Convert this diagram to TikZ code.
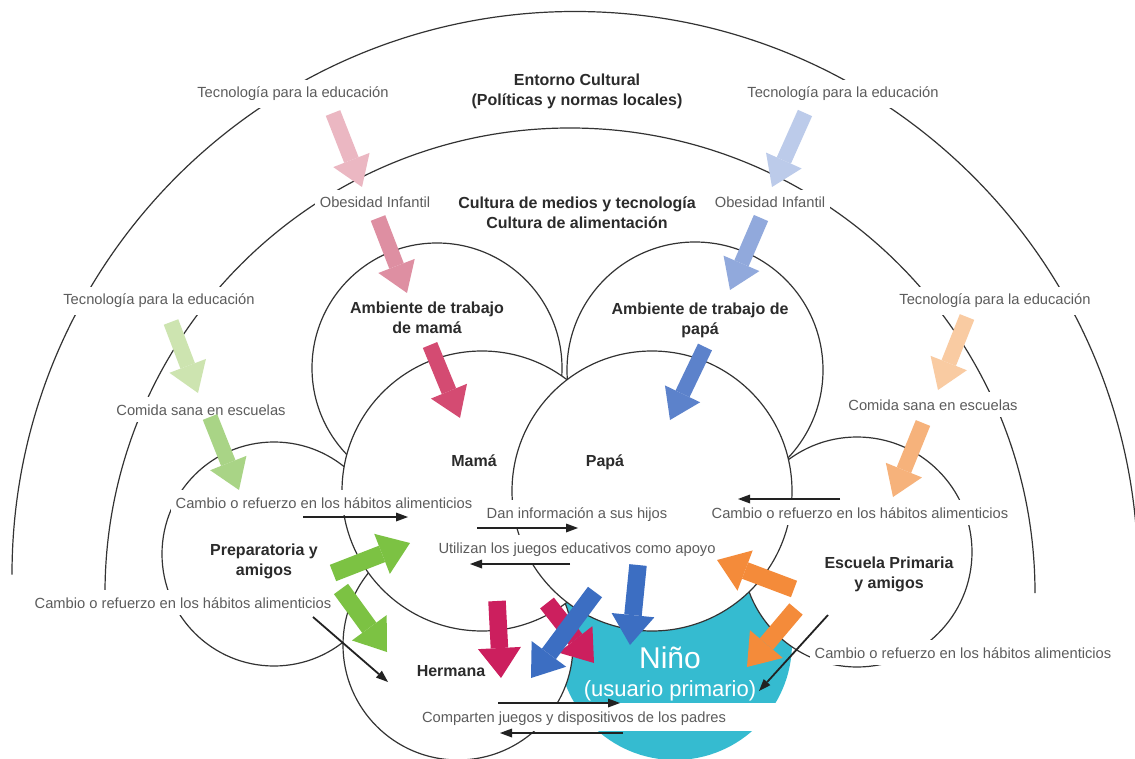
\documentclass[tikz,border=0pt]{standalone}
\usepackage{fontspec}
\setmainfont{Liberation Sans}
\usetikzlibrary{arrows.meta}
\definecolor{linegray}{HTML}{333333}
\definecolor{txtgray}{HTML}{5C5C5C}
\definecolor{txtdark}{HTML}{2B2B2B}
\definecolor{arrowblack}{HTML}{222222}
\definecolor{ninocyan}{HTML}{35BBD0}
\definecolor{lightpink}{HTML}{EBB7C2}
\definecolor{midpink}{HTML}{DE8FA2}
\definecolor{darkpink}{HTML}{D44B72}
\definecolor{lightblue}{HTML}{BCCBEA}
\definecolor{midblue}{HTML}{91A9DC}
\definecolor{darkblue}{HTML}{5C82CB}
\definecolor{lightgreen}{HTML}{CDE4B0}
\definecolor{midgreen}{HTML}{A9D486}
\definecolor{brightgreen}{HTML}{7CC243}
\definecolor{lightorange}{HTML}{F9CBA2}
\definecolor{midorange}{HTML}{F6B27B}
\definecolor{brightorange}{HTML}{F48B3A}
\definecolor{crimson}{HTML}{CC1F5E}
\definecolor{strongblue}{HTML}{3C6EC2}
\begin{document}
\begin{tikzpicture}[x=1pt,y=-1pt,
  arcline/.style={draw=linegray, line width=1.2pt},
  circ/.style={circle, draw=linegray, fill=white, line width=1.2pt, inner sep=0pt},
  graytxt/.style={font=\fontsize{14.7}{17}\selectfont, text=txtgray, fill=white, inner xsep=5pt, inner ysep=7pt, anchor=base},
  boldtxt/.style={font=\bfseries\fontsize{16}{20}\selectfont, text=txtdark, align=center, inner sep=1pt},
  barrow/.style={draw=#1, line width=15.5pt, line cap=butt, -{Triangle[length=29pt,width=39pt,line width=0pt]}},
  bigarrow/.style={draw=#1, line width=17.5pt, line cap=butt, -{Triangle[length=30pt,width=43pt,line width=0pt]}},
  blk/.style={draw=arrowblack, line width=1.8pt, -{Triangle[length=12pt,width=9pt,line width=0pt]}}
]
\useasboundingbox (0,0) rectangle (1135,759);
\clip (0,0) rectangle (1135,759);
\fill[white] (0,0) rectangle (1135,759);

% outer rings
\draw[arcline] (12,574.5) arc[start angle=180, end angle=360, radius=563];
\draw[arcline] (105,593) arc[start angle=180, end angle=360, radius=465];

% circles (back to front)
\node[circ, minimum size=224pt] (prep) at (274,554) {};
\node[circ, minimum size=250pt] (mamawork) at (437,368) {};
\node[circ, minimum size=256pt] (papawork) at (695,370) {};
\node[circle, fill=ninocyan, minimum size=234pt, inner sep=0pt] (nino) at (675,643) {};
\node[circ, minimum size=230pt] (escuela) at (857,552) {};
\node[circ, minimum size=230pt] (hermana) at (458,645) {};
\node[circ, minimum size=280pt] (mama) at (482,491) {};
\node[circ, minimum size=280pt] (papa) at (652,491) {};

% white band behind the bottom label
\fill[white] (405,703) rectangle (800,731);

% gray labels
\node[graytxt] (tec1) at (293,98) {Tecnología para la educación};
\node[graytxt] (tec2) at (843,98) {Tecnología para la educación};
\node[graytxt] (obe1) at (375,208) {Obesidad Infantil};
\node[graytxt] (obe2) at (770,208) {Obesidad Infantil};
\node[graytxt] (tec3) at (159,305) {Tecnología para la educación};
\node[graytxt] (tec4) at (995,305) {Tecnología para la educación};
\node[graytxt] (com1) at (201,415) {Comida sana en escuelas};
\node[graytxt] (com2) at (933,410) {Comida sana en escuelas};
\node[graytxt] (cam1) at (324,508) {Cambio o refuerzo en los hábitos alimenticios};
\node[graytxt] (cam2) at (860,518) {Cambio o refuerzo en los hábitos alimenticios};
\node[graytxt] (cam3) at (183,608) {Cambio o refuerzo en los hábitos alimenticios};
\node[graytxt] (cam4) at (963,658) {Cambio o refuerzo en los hábitos alimenticios};
\node[graytxt] (dan) at (577,518) {Dan información a sus hijos};
\node[graytxt] (uti) at (577,553) {Utilizan los juegos educativos como apoyo};
\node[graytxt, fill=none] (comp) at (574,722) {Comparten juegos y dispositivos de los padres};

% bold labels
\node[boldtxt] (entorno) at (577,91) {Entorno Cultural\\(Políticas y normas locales)};
\node[boldtxt] (cultura) at (577,213) {Cultura de medios y tecnología\\Cultura de alimentación};
\node[boldtxt] (amb1) at (427,318) {Ambiente de trabajo\\de mamá};
\node[boldtxt] (amb2) at (700,320) {Ambiente de trabajo de\\papá};
\node[boldtxt, anchor=base] (lmama) at (474,466) {Mamá};
\node[boldtxt, anchor=base] (lpapa) at (605,466) {Papá};
\node[boldtxt] (lprep) at (264,561) {Preparatoria y\\amigos};
\node[boldtxt] (lesc) at (889,574) {Escuela Primaria\\y amigos};
\node[boldtxt, anchor=base] (lherm) at (451,676) {Hermana};
\node[anchor=base, text=white, font=\fontsize{30}{30}\selectfont] (lnino) at (670,668) {Niño};
\node[anchor=base, text=white, font=\fontsize{22}{22}\selectfont] (lnino2) at (670,696) {(usuario primario)};

% arrow end points
\coordinate (a1s) at (333,113);  \coordinate (a1e) at (362,187);
\coordinate (a2s) at (378,218);  \coordinate (a2e) at (407,293);
\coordinate (a3s) at (430,345);  \coordinate (a3e) at (460,418);
\coordinate (a4s) at (805,113);  \coordinate (a4e) at (772,187);
\coordinate (a5s) at (761,218);  \coordinate (a5e) at (730,290);
\coordinate (a6s) at (705,347);  \coordinate (a6e) at (670,420);
\coordinate (a7s) at (171,322);  \coordinate (a7e) at (198,393);
\coordinate (a8s) at (210,417);  \coordinate (a8e) at (239,490);
\coordinate (a9s) at (333,573);  \coordinate (a9e) at (410,543);
\coordinate (a10s) at (341,589); \coordinate (a10e) at (387,652);
\coordinate (a11s) at (967,317); \coordinate (a11e) at (938,390);
\coordinate (a12s) at (923,423); \coordinate (a12e) at (893,497);
\coordinate (a13s) at (794,589); \coordinate (a13e) at (717,560);
\coordinate (a14s) at (796,609); \coordinate (a14e) at (747,667);
\coordinate (a15s) at (497,601); \coordinate (a15e) at (501,678);
\coordinate (a16s) at (547,603); \coordinate (a16e) at (594,663);
\coordinate (a17s) at (595,592); \coordinate (a17e) at (531,678);
\coordinate (a18s) at (638,565); \coordinate (a18e) at (630,645);

\draw[barrow=lightpink] (a1s) -- (a1e);
\draw[barrow=midpink] (a2s) -- (a2e);
\draw[barrow=darkpink] (a3s) -- (a3e);
\draw[barrow=lightblue] (a4s) -- (a4e);
\draw[barrow=midblue] (a5s) -- (a5e);
\draw[barrow=darkblue] (a6s) -- (a6e);
\draw[barrow=lightgreen] (a7s) -- (a7e);
\draw[barrow=midgreen] (a8s) -- (a8e);
\draw[bigarrow=brightgreen] (a9s) -- (a9e);
\draw[bigarrow=brightgreen] (a10s) -- (a10e);
\draw[barrow=lightorange] (a11s) -- (a11e);
\draw[barrow=midorange] (a12s) -- (a12e);
\draw[bigarrow=brightorange] (a13s) -- (a13e);
\draw[bigarrow=brightorange] (a14s) -- (a14e);
\draw[bigarrow=crimson] (a15s) -- (a15e);
\draw[bigarrow=crimson] (a16s) -- (a16e);
\draw[bigarrow=strongblue] (a17s) -- (a17e);
\draw[bigarrow=strongblue] (a18s) -- (a18e);

% thin black arrows
\coordinate (k1s) at (303,517); \coordinate (k1e) at (408,517);
\coordinate (k2s) at (477,528); \coordinate (k2e) at (578,528);
\coordinate (k3s) at (570,564); \coordinate (k3e) at (470,564);
\coordinate (k4s) at (840,499); \coordinate (k4e) at (738,499);
\coordinate (k5s) at (313,617); \coordinate (k5e) at (388,682);
\coordinate (k6s) at (828,615); \coordinate (k6e) at (759,691);
\coordinate (k7s) at (498,703); \coordinate (k7e) at (620,703);
\coordinate (k8s) at (623,733); \coordinate (k8e) at (500,733);
\draw[blk] (k1s) -- (k1e);
\draw[blk] (k2s) -- (k2e);
\draw[blk] (k3s) -- (k3e);
\draw[blk] (k4s) -- (k4e);
\draw[blk] (k5s) -- (k5e);
\draw[blk] (k6s) -- (k6e);
\draw[blk] (k7s) -- (k7e);
\draw[blk] (k8s) -- (k8e);
\end{tikzpicture}
\end{document}
